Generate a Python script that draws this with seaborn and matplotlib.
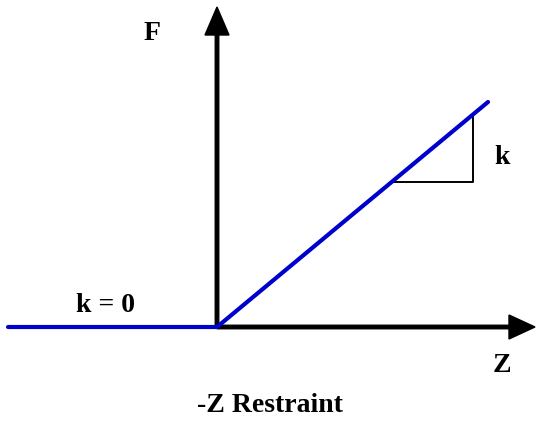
import matplotlib
matplotlib.use('Agg')
import matplotlib.pyplot as plt
import seaborn as sns
import pandas as pd

sns.set_style("white")
plt.rcParams['font.family'] = ['Liberation Serif', 'DejaVu Serif']

# Force-displacement curve for a -Z restraint (origin at the axis crossing)
z_curve = [-209, 0, 271]
f_curve = [0, 0, 225]

# slope triangle corners
tri_z = [175, 256, 256]
tri_f = [145, 145, 212.5]

# axis extents
z_axis_len = 318
f_axis_len = 320

curve = pd.DataFrame({'Z': z_curve, 'F': f_curve})

fig = plt.figure(figsize=(5.37, 4.21), dpi=100)
ax = fig.add_axes([0, 0, 1, 1])

# axes arrows
ax.arrow(0, 0, z_axis_len - 26, 0, width=3.5, head_width=24, head_length=26,
         fc='black', ec='black', length_includes_head=False, zorder=2)
ax.arrow(0, 0, 0, f_axis_len - 28, width=3.5, head_width=24, head_length=28,
         fc='black', ec='black', length_includes_head=False, zorder=2)

sns.lineplot(data=curve, x='Z', y='F', sort=False, color='#0000CC',
             linewidth=3, ax=ax, zorder=3)

ax.plot(tri_z, tri_f, color='black', linewidth=1.4, zorder=2)

txt = dict(fontsize=20, fontweight='bold', ha='center', va='center', color='black')
ax.text(-65, 294, 'F', **txt)
ax.text(285, 170, 'k', **txt)
ax.text(-111, 21, 'k = 0', **txt)
ax.text(285, -38, 'Z', **txt)
ax.text(53, -79, '-Z Restraint', **txt)

ax.set_xlim(-217, 320)
ax.set_ylim(-94, 327)
ax.set_xlabel('')
ax.set_ylabel('')
ax.axis('off')

plt.savefig('out.png', dpi=100)
